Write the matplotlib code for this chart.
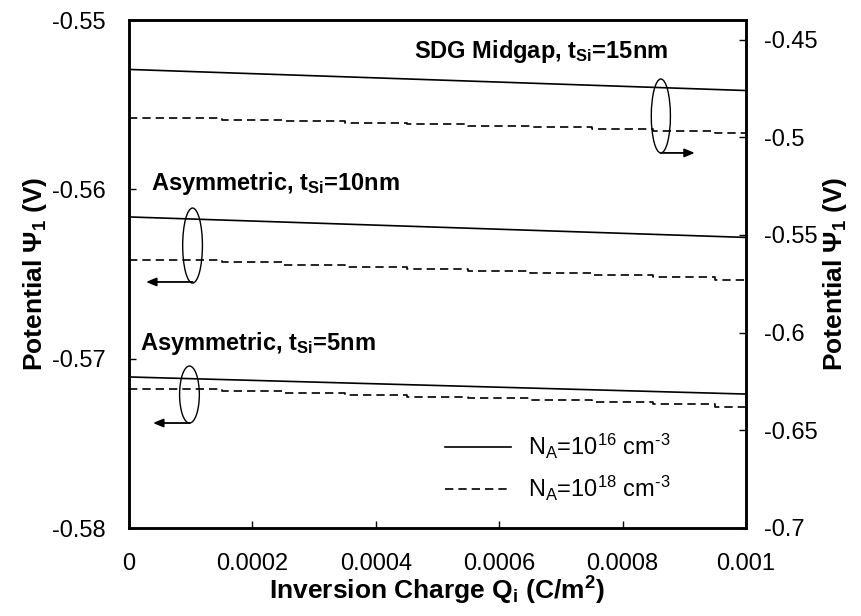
import matplotlib
matplotlib.use("Agg")
import matplotlib.pyplot as plt
from matplotlib.patches import Ellipse
from matplotlib.lines import Line2D

plt.rcParams['font.family'] = ['Liberation Sans', 'DejaVu Sans']
plt.rcParams['mathtext.fontset'] = 'custom'
plt.rcParams['mathtext.rm'] = 'Liberation Sans'
plt.rcParams['mathtext.bf'] = 'Liberation Sans:bold'
plt.rcParams['mathtext.it'] = 'Liberation Sans:italic'
plt.rcParams['mathtext.sf'] = 'Liberation Sans'

# ---------------- data ----------------
q_solid = [0.0, 0.001]
q_dash = [0.0, 0.0001, 0.0002, 0.0003, 0.0004, 0.0005, 0.0006, 0.0007, 0.0008, 0.0009, 0.001]

# SDG Midgap, tSi=15nm (right axis)
sdg_solid = [-0.4653, -0.4761]
sdg_dash = [-0.4902, -0.4903, -0.4911, -0.4918, -0.4925, -0.4933, -0.4941, -0.4949, -0.4957, -0.4966, -0.4976]

# Asymmetric, tSi=10nm (left axis)
a10_solid = [-0.56163, -0.56284]
a10_dash = [-0.56417, -0.56420, -0.56432, -0.56444, -0.56456, -0.56468, -0.56480, -0.56492, -0.56504, -0.56518, -0.56535]

# Asymmetric, tSi=5nm (left axis)
a5_solid = [-0.57108, -0.57209]
a5_dash = [-0.57179, -0.57182, -0.57192, -0.57203, -0.57214, -0.57224, -0.57234, -0.57245, -0.57256, -0.57268, -0.57284]

x_ticks = [0, 0.0002, 0.0004, 0.0006, 0.0008, 0.001]
x_ticklabels = ['0', '0.0002', '0.0004', '0.0006', '0.0008', '0.001']
yl_ticks = [-0.58, -0.57, -0.56, -0.55]
yl_ticklabels = ['-0.58', '-0.57', '-0.56', '-0.55']
yr_ticks = [-0.7, -0.65, -0.6, -0.55, -0.5, -0.45]
yr_ticklabels = ['-0.7', '-0.65', '-0.6', '-0.55', '-0.5', '-0.45']

legend_labels = ['N$_\\mathregular{A}$=10$^\\mathregular{16}$ cm$^\\mathregular{\u20103}$',
                 'N$_\\mathregular{A}$=10$^\\mathregular{18}$ cm$^\\mathregular{\u20103}$']

# ---------------- figure ----------------
W, H = 862, 616
fig = plt.figure(figsize=(W / 100, H / 100), dpi=100)
L, R, T, B = 129, 746, 20, 528
ax = fig.add_axes([L / W, 1 - B / H, (R - L) / W, (B - T) / H])
ax2 = ax.twinx()

FS = 17
FL = 19
lw = 1.2
dash = (0, (5, 3))

ax.plot(q_solid, a10_solid, color='black', lw=lw)
ax.plot(q_dash, a10_dash, color='black', lw=lw, ls=dash, drawstyle='steps-mid')
ax.plot(q_solid, a5_solid, color='black', lw=lw)
ax.plot(q_dash, a5_dash, color='black', lw=lw, ls=dash, drawstyle='steps-mid')
ax2.plot(q_solid, sdg_solid, color='black', lw=lw)
ax2.plot(q_dash, sdg_dash, color='black', lw=lw, ls=dash, drawstyle='steps-mid')

ax.set_xlim(0, 0.001)
ax.set_ylim(-0.58, -0.55)
ax2.set_ylim(-0.7, -0.44)

ax.set_xticks(x_ticks)
ax.set_xticklabels(x_ticklabels)
ax.set_yticks(yl_ticks)
ax.set_yticklabels(yl_ticklabels)
ax2.set_yticks(yr_ticks)
ax2.set_yticklabels(yr_ticklabels)

for a in (ax, ax2):
    for s in a.spines.values():
        s.set_linewidth(1.8)
ax.tick_params(axis='both', direction='in', length=5, width=1, labelsize=FS, pad=17)
ax.tick_params(axis='x', pad=18)
ax2.tick_params(axis='y', direction='in', length=5, width=1, labelsize=FS, pad=13)

ax.set_xlabel(r'Inversion Charge Q$_\mathbf{i}$ (C/m$^\mathbf{2}$)', fontsize=FL, fontweight='bold', labelpad=0)
ax.set_ylabel(r'Potential $\mathbf{\Psi}_\mathregular{1}$ (V)', fontsize=FL, fontweight='bold', labelpad=2)
ax2.set_ylabel(r'Potential $\mathbf{\Psi}_\mathregular{1}$ (V)', fontsize=FL, fontweight='bold', labelpad=2)

# annotations
ax.text(0.000462, -0.55185, r'SDG Midgap, t$_\mathbf{Si}$=15nm', fontsize=FS, fontweight='bold', ha='left', va='center')
ax.text(0.0000357, -0.55963, r'Asymmetric, t$_\mathbf{Si}$=10nm', fontsize=FS, fontweight='bold', ha='left', va='center')
ax.text(0.0000178, -0.56908, r'Asymmetric, t$_\mathbf{Si}$=5nm', fontsize=FS, fontweight='bold', ha='left', va='center')

for cx, cy, w, h in [(0.000862, -0.55567, 3.1e-5, 0.00437),
                     (0.000103, -0.56332, 3.2e-5, 0.00443),
                     (0.000098, -0.57212, 3.2e-5, 0.00337)]:
    ax.add_patch(Ellipse((cx, cy), w, h, fill=False, ec='black', lw=1.0))

ap = dict(arrowstyle='-|>,head_length=0.6,head_width=0.25', color='black', lw=1.3, shrinkA=0, shrinkB=0)
ax.annotate('', xy=(0.000917, -0.55785), xytext=(0.000862, -0.55785), arrowprops=ap)
ax.annotate('', xy=(0.0000276, -0.56547), xytext=(0.000103, -0.56547), arrowprops=ap)
ax.annotate('', xy=(0.0000389, -0.5738), xytext=(0.000098, -0.5738), arrowprops=ap)

handles = [Line2D([], [], color='black', lw=lw),
           Line2D([], [], color='black', lw=lw, ls=dash)]
ax.legend(handles, legend_labels, loc='upper left', bbox_to_anchor=((445 - L) / (R - L), (B - 432) / (B - T)),
          frameon=False, fontsize=FS, handlelength=2.8, handletextpad=0.7, labelspacing=0.55,
          borderpad=0, borderaxespad=0)

fig.savefig('out.png', dpi=100)
